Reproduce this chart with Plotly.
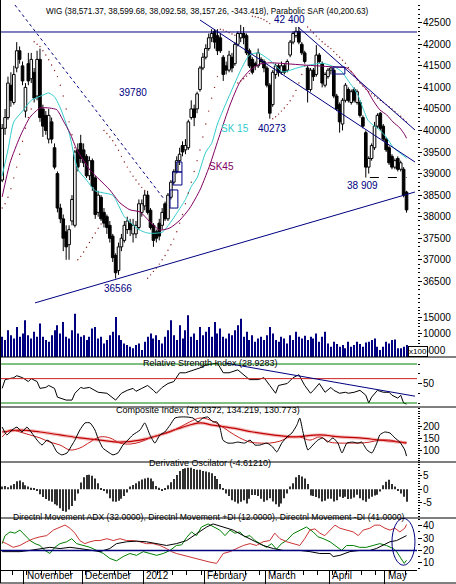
import plotly.graph_objects as go

# trading-day index, 20 Oct 2011 .. 10 May 2012
days = list(range(140))
month_labels = ["November", "December", "2012", "February", "March", "April", "May"]
month_start = [8, 28, 49, 70, 91, 113, 132]

opens = [38850, 40050, 40300, 41050, 40650, 41450, 41850, 41500, 40450, 41550,
         41200, 41350, 40800, 41650, 40500, 40350, 39800, 40200, 39600, 39000,
         38200, 37950, 37650, 37350, 37900, 37800, 39550, 39700, 39550, 39400,
         38950, 39300, 38900, 38100, 38450, 38100, 38000, 37800, 37550, 37100,
         36750, 37300, 37450, 37700, 37850, 37600, 37600, 37750, 38100, 38250,
         38500, 38150, 37800, 37650, 37850, 37800, 38300, 37950, 38450, 38800,
         39050, 39300, 39650, 39550, 39600, 40300, 40500, 40500, 40950, 41450,
         41700, 41900, 42150, 42300, 42200, 42150, 41700, 41500, 41400, 41700,
         41550, 42000, 42150, 42250, 42200, 41850, 41650, 41550, 41500, 41650,
         41600, 41450, 41050, 40600, 41300, 41500, 41350, 41500, 41400, 41750,
         42050, 42200, 42300, 42000, 41800, 41450, 40950, 41400, 41300, 41750,
         41550, 41050, 41250, 41400, 41400, 40800, 40600, 40150, 40700, 40950,
         40650, 40950, 40650, 40650, 40300, 39950, 39150, 39350, 39600, 40100,
         40400, 40100, 39800, 39600, 39400, 39150, 39350, 39100, 39100, 38571.37]
highs = [40150, 40500, 41250, 41350, 41500, 42050, 41950, 41600, 41100, 41800,
         41800, 41450, 41850, 41900, 40600, 40450, 40500, 40300, 39700, 39050,
         38300, 38050, 37800, 37800, 38500, 39550, 39700, 39900, 39700, 39450,
         39400, 39350, 38950, 38600, 38500, 38200, 38050, 37900, 37600, 37150,
         37400, 37600, 37900, 38000, 37950, 37950, 37900, 38400, 38400, 38600,
         38600, 38200, 37850, 37700, 37950, 38200, 38350, 38550, 38850, 39100,
         39400, 39600, 39750, 39800, 40250, 40700, 40600, 40900, 41500, 41800,
         42000, 42250, 42350, 42350, 42350, 42250, 41750, 41600, 41850, 41800,
         42050, 42300, 42450, 42400, 42250, 41900, 41700, 41600, 41900, 41700,
         41650, 41500, 41100, 41400, 41550, 41550, 41600, 41550, 41650, 42100,
         42300, 42400, 42400, 42050, 41850, 41500, 41450, 41450, 41980, 41800,
         41600, 41350, 41450, 41480, 41450, 40850, 40650, 40750, 41100, 41000,
         40950, 41000, 40950, 40700, 40350, 40000, 39400, 39700, 40200, 40400,
         40430, 40150, 39850, 39650, 39450, 39350, 39400, 39300, 39150, 38599.68]
lows = [38800, 39900, 40250, 40550, 40600, 41350, 41550, 41050, 40300, 41050,
        41100, 40650, 40700, 40200, 39850, 39900, 39700, 39700, 39100, 38100,
        37850, 37200, 37000, 37000, 37800, 37750, 39050, 39250, 39150, 38900,
        38850, 38600, 37950, 38000, 37900, 37750, 37600, 37400, 36950, 36566,
        36650, 37200, 37400, 37600, 37550, 37400, 37500, 37700, 38000, 38150,
        38050, 37700, 37300, 37400, 37450, 37700, 37900, 37900, 38400, 38750,
        39000, 39200, 39400, 39450, 39550, 40250, 40100, 40400, 40900, 41400,
        41650, 41850, 42050, 41900, 41750, 41800, 41150, 41300, 41350, 41350,
        41500, 41950, 42050, 42000, 41750, 41450, 41300, 41400, 41450, 41550,
        41350, 41000, 40273, 40550, 41200, 41250, 41300, 41300, 41350, 41700,
        42000, 42150, 42000, 41750, 41550, 40650, 40900, 41150, 41250, 41550,
        41000, 41000, 41200, 41300, 40750, 40450, 39950, 40000, 40650, 40650,
        40600, 40650, 40600, 40300, 40050, 38909, 39000, 39300, 39550, 40050,
        40000, 39750, 39500, 39200, 39100, 39100, 39050, 39050, 38450, 38092.58]
closes = [40050, 40300, 41100, 40700, 41300, 41850, 41650, 41150, 41000, 41150,
          41650, 40750, 41650, 40300, 40100, 40000, 40350, 39800, 39150, 38200,
          37950, 37500, 37300, 37700, 38400, 39500, 39150, 39350, 39250, 38950,
          39300, 38700, 38050, 38500, 37950, 37850, 37750, 37500, 37050, 36700,
          37300, 37500, 37800, 37900, 37700, 37800, 37800, 38300, 38300, 38500,
          38100, 37750, 37450, 37500, 37550, 38100, 37950, 38500, 38800, 39050,
          39300, 39450, 39500, 39650, 40200, 40500, 40300, 40850, 41450, 41700,
          41900, 42150, 42250, 42050, 41850, 41850, 41300, 41400, 41750, 41450,
          42000, 42250, 42250, 42150, 41800, 41500, 41350, 41500, 41800, 41600,
          41450, 41050, 40400, 41350, 41500, 41350, 41500, 41350, 41600, 42050,
          42250, 42300, 42050, 41800, 41600, 40950, 41400, 41250, 41750, 41600,
          41100, 41300, 41400, 41450, 40800, 40500, 40200, 40700, 41050, 40700,
          40900, 40700, 40900, 40350, 40100, 39150, 39350, 39650, 40100, 40350,
          40050, 39800, 39550, 39250, 39150, 39300, 39100, 39250, 38500, 38157.26]

# volume, in hundreds
volume = [9000, 8000, 11000, 9500, 8500, 12000, 9000, 10000,
          14000, 9500, 8500, 10500, 9000, 13000, 9000, 8000, 7500, 9500,
          11000, 12500, 10000, 13500, 9000, 8500, 11000, 16000, 10000, 9000,
          9500, 8000, 9000, 11500, 12000, 8500, 9000, 7000, 8000, 9500,
          10500, 15000, 9500, 8000, 7000, 6500, 6000, 5500, 6500, 7000, 5000,
          7500, 9000, 10000, 8500, 9500, 8000, 7000, 9000, 11000, 14000,
          9500, 8000, 12500, 8500, 11000, 15500, 9000, 10000, 8000, 12000, 9500,
          10500, 12000, 9000, 13500, 10000, 11500, 9000, 8500, 10000, 9500,
          11000, 12500, 14500, 9000, 10500, 8000, 9500, 7500, 8500, 9000, 8000,
          9500, 12000, 10000, 8000, 7500, 9000, 8500, 7000, 9500, 8000, 10500,
          9000, 8500, 9300, 8000, 9000, 8500, 10000, 7500, 9000, 10500, 7000,
          6000, 7500, 6800, 6000, 6500, 5500, 7500, 6000, 6500, 7500,
          6800, 6000, 7300, 7500, 8000, 8500, 6000, 5000, 6000,
          7500, 7000, 8000, 8200, 5500, 5500, 6000, 6500]

sma15_idx = [0, 2, 4, 7, 10, 14, 16, 18, 20, 23, 26, 29, 32, 35, 38, 39, 42, 44, 47, 50,
             55, 58, 60, 63, 65, 67, 70, 72, 74, 77, 80, 82, 85, 88, 92, 96.5, 101.3, 105.8,
             110.2, 114.4, 116.8, 118.8, 120.5, 122.3, 124, 125.7, 127.4, 129.8, 132.2,
             134.3, 136.7, 139]
sma15_val = [38950, 39550, 40200, 40450, 40700, 40820, 40870, 40780, 40520, 39950,
             39100, 38850, 38600, 38550, 38500, 38400, 38000, 37870, 37700, 37620,
             37640, 37880, 38080, 38400, 38700, 38900, 39500, 39700, 40150, 40640,
             41100, 41400, 41750, 41800, 41630, 41360, 41450, 41520, 41560, 41470,
             41360, 41170, 41010, 40820, 40520, 40240, 40130, 40010, 39830, 39620,
             39480, 39360]
sma45_idx = [0, 2.7, 6.1, 9.6, 13, 16.4, 18.8, 20.9, 23.3, 25.7, 27.8, 30.2, 33.6, 37,
             40.5, 43.9, 47.4, 50.8, 54.2, 57.7, 61.1, 64.5, 68, 69.7, 71.4, 74.8, 78.3,
             81.7, 85.2, 88.6, 92, 103.4, 115.1, 118.5, 120.5, 123, 125.4, 127.4, 129.8,
             132.2, 134.3, 136.7, 138.4, 139]
sma45_val = [38460, 39250, 39850, 40310, 40520, 40520, 40480, 40240, 39940, 39550,
             39320, 39080, 38850, 38620, 38320, 38160, 38110, 37880, 37690, 37740,
             37920, 38200, 38620, 38900, 39200, 39900, 40590, 41120, 41400, 41540,
             41570, 41520, 41470, 41450, 41330, 41120, 40940, 40710, 40480, 40360,
             40200, 40060, 39900, 39820]

sar = [38200, 38300, 38450, 38650, 38900, 39150, 39450, 39750, 40050, 40300, 40500,
       42060, 42000, 41950, 41850, 41750, 41640, 41520, 41390, 41250, 41050, 40800,
       40500, 40200, 39900, 39600,
       37000, 37080, 37180, 37290, 37400, 37510, 37620, 37730, 37830,
       40000, 39930, 39850, 39760, 39660, 39540, 39400, 39270, 39150, 39040, 38940,
       38850, 38760, 38680, 38610,
       36570, 36650, 36730, 36810, 36900, 37000, 37100, 37220, 37350, 37480, 37650,
       37850, 38050, 38300, 38550, 38800, 39050, 39300, 39550, 39850, 40150, 40450,
       40750, 41000, 41250,
       42350, 42330, 42300, 42270, 42240, 42210,
       41100, 41150, 41200, 41260, 41320,
       42650, 42640, 42620, 42600, 42570, 42530, 42480,
       40273, 40320, 40380, 40450, 40520, 40600, 40690, 40800, 40930, 41100, 41300, 41500,
       42400, 42330, 42260, 42190, 42120, 42060, 42000, 41950, 41900, 41830, 41760,
       41700, 41630, 41560, 41460, 41370, 41270, 41170, 41100, 41030, 40960, 40900,
       40850, 40800, 40750, 40700, 40650, 40600, 40550, 40500, 40440, 40380, 40330,
       40260, 40200.63]

rsi_idx = [0, 1, 4, 5, 7, 9, 10, 12, 13, 15, 16, 18, 19, 22, 24, 25, 27, 28, 30, 33,
           36, 38, 39, 41, 43, 45, 46, 48, 50, 52, 53, 55, 57, 59, 61, 63, 66, 68, 70, 72,
           74, 76, 78, 81, 83, 85, 88, 90, 92, 94, 95, 98, 100, 102, 104, 106, 107, 109,
           111, 113, 114, 116, 118, 119, 121, 123, 125, 126, 127, 129, 131, 133, 134, 136,
           137, 138, 139]
rsi_val = [45, 54, 56, 58, 56, 52, 55, 52, 45, 46, 48, 45, 36, 33, 33, 40, 46, 45, 46, 41,
           40, 35, 33, 40, 43, 45, 42, 45, 48, 43, 40, 46, 50, 52, 61, 61, 64, 66, 69, 70,
           71, 61, 61, 64, 59, 54, 54, 56, 48, 40, 48, 50, 56, 59, 48, 40, 43, 50, 41, 46,
           43, 40, 41, 40, 41, 43, 38, 30, 36, 43, 41, 41, 38, 35, 38, 30, 28.93]

comp_idx = [0, 1.6, 3.4, 5.1, 6.8, 8.5, 10.2, 12, 13.7, 15.4, 17.1, 18.8, 20.5, 22.3, 24,
            25, 26.7, 28.5, 30.2, 31.9, 32.9, 34.6, 36.4, 38.1, 39.8, 41.5, 43.2, 44.9,
            47.4, 49, 50.8, 52.5, 54.2, 55.9, 57.7, 59.4, 61.1, 63.5, 65.6, 67.3, 69, 70.7,
            72.4, 73.8, 74.9, 75.9, 77.6, 79.3, 81, 83.4, 85.2, 86.9, 88.6, 91, 93, 94.4,
            96.1, 97.9, 99.6, 101.3, 102.3, 103.4, 105.1, 106.8, 108.5, 110.2, 111.9,
            113.7, 115.4, 116.8, 118.5, 120.5, 122.3, 123.6, 125.4, 127.1, 128.8, 129.8,
            131.5, 133.3, 135, 136.7, 138.4, 139]
comp_val = [196, 164, 184, 196, 176, 196, 172, 143, 123, 143, 131, 95, 83, 91, 123, 143,
            184, 213, 213, 184, 152, 111, 95, 83, 91, 123, 143, 164, 184, 213, 164, 131,
            164, 176, 204, 233, 237, 237, 233, 217, 233, 237, 217, 217, 192, 143, 131, 131,
            135, 131, 143, 123, 123, 131, 115, 95, 131, 156, 172, 204, 233, 176, 103, 123,
            143, 152, 135, 152, 131, 91, 131, 135, 131, 135, 103, 91, 131, 164, 176, 172,
            152, 135, 103, 78.04]
comp_fast_idx = [0, 2.7, 6.1, 9.6, 13, 16.4, 19.9, 23.3, 26.7, 30.2, 33.6, 37, 40.5, 43.9,
                 47.4, 50.8, 54.2, 57.7, 61.1, 64.5, 68, 71.4, 74.8, 78.3, 81.7, 85.2, 88.6,
                 92, 95.5, 98.9, 102.3, 105.8, 109.2, 112.6, 116.1, 119.5, 122.9, 126.4,
                 129.8, 133.3, 136.7, 139]
comp_fast_val = [156, 184, 176, 164, 152, 135, 123, 103, 111, 135, 156, 152, 131, 127, 135,
                 152, 164, 176, 196, 217, 233, 225, 204, 176, 152, 135, 131, 131, 139, 156,
                 156, 143, 156, 135, 131, 131, 131, 135, 143, 143, 135, 134.22]
comp_slow_idx = [0, 6.1, 13, 19.9, 26.7, 33.6, 40.5, 47.4, 54.2, 61.1, 68, 72.4, 79.3, 86.2,
                 93, 100, 109.2, 116.1, 122.9, 129.8, 136.7, 139]
comp_slow_val = [176, 184, 176, 164, 152, 143, 135, 143, 164, 192, 213, 204, 192, 176, 164,
                 156, 164, 156, 152, 143, 135, 130.77]

deriv_osc = [1.0, 1.2, 0.8, 1.4, 2.0, 3.0, 3.3, 2.6, 1.5, 1.0,
             0.6, 0.3, -0.4, -1.8, -2.8, -3.6, -4.2, -4.6, -5.5, -6.0,
             -7.0, -8.0, -8.3, -7.5, -6.2, -4.2, -1.5, 2.5, 4.5, 5.3,
             5.4, 5.0, 4.0, 2.2, 0.5, -0.3, -1.5, -3.3, -4.5, -4.6,
             -4.2, -3.5, -2.5, -1.2, 1.0, 1.6, 2.2, 3.0, 3.6, 4.0,
             4.3, 4.0, 3.0, 1.2, 0.6, -0.3, 0.5, 1.5, 2.6, 3.8,
             5.3, 6.8, 7.5, 7.8, 8.0, 8.0, 7.5, 7.2, 7.2, 6.8,
             6.6, 6.3, 5.9, 4.9, 3.8, 2.0, 0.5, -1.5, -2.5, -4.0,
             -4.6, -5.2, -4.6, -4.0, -5.2, -3.5, -2.1, -2.1, -2.5, -3.5,
             -4.6, -4.0, -3.3, -4.5, -5.5, -6.4, -5.2, -3.3, -1.5, 1.0,
             2.2, 4.5, 5.3, 4.7, 4.0, 2.0, -2.3, -2.5, -2.8, -3.3,
             -4.5, -4.2, -3.5, -3.5, -4.5, -4.0, -2.7, -3.2, -2.7, -3.6,
             -3.5, -3.0, -2.0, -3.3, -4.0, -4.6, -3.5, -2.7, -2.3, -2.0,
             -0.8, 1.5, 2.8, 3.5, 2.0, 1.0, -0.5, -1.5, -2.7, -4.6121]

pdi_idx = [0, 1, 2.7, 4.4, 6.1, 7.8, 9.6, 11.3, 13, 14.7, 16.4, 18.1, 19.9, 22.2, 23.9,
           25.6, 27.9, 30.2, 32.5, 34.8, 37, 39.3, 41.6, 43.9, 46.2, 48.5, 50.8, 53.1,
           55.4, 57.7, 59.9, 61.7, 63.4, 65.1, 66.8, 68.5, 70.8, 73.1, 74.8, 76.6, 78.3,
           80, 81.7, 83.4, 85.2, 86.9, 88.6, 90.9, 92.6, 94.3, 96, 97.8, 100, 102.3, 104.6,
           106.9, 108.6, 110.4, 112.7, 114.4, 116.7, 118.4, 120.7, 122.9, 125.2, 127.5,
           129.8, 132.1, 134.4, 135.6, 136.7, 138.2, 139]
pdi_val = [25.5, 32, 35, 34, 36.5, 32, 28, 25.5, 24, 20, 17.5, 22.5, 25.5, 27, 29.5,
           25.5, 24, 22.5, 20, 17.5, 13.5, 11.5, 15, 17.5, 16, 19, 17.5, 16,
           17.5, 20, 24, 24.5, 30.5, 35, 32, 39, 41.5, 39, 36.5, 32, 36.5,
           34, 35, 31, 32, 28, 25.5, 22.5, 25.5, 21, 25.5, 28, 33.5, 36.5, 39,
           35, 31, 29.5, 27, 24, 20, 24, 24, 22.5, 22.5, 24,
           25.5, 24, 21.5, 19, 15, 9.5, 12]
mdi_idx = [0, 1.5, 3.8, 6.1, 8.4, 10.7, 13, 15.3, 17.6, 19.9, 21.6, 23.3, 25, 26.7, 28.4,
           30.2, 31.9, 33.6, 36, 38.2, 40.5, 42.8, 45, 47.3, 49.6, 51.9, 54.2, 56.5, 58.2,
           59.9, 62.2, 64.5, 66.8, 69.1, 71.4, 73.7, 74.8, 76, 78.3, 80.6, 82.9, 85.2, 87.4,
           89.7, 92, 93.7, 95.5, 97.8, 100, 102.3, 104, 105.8, 107.5, 109.2, 110.9, 112.7,
           114.4, 116.1, 118.4, 120.7, 122.4, 124.1, 126.4, 128.1, 129.8, 131.6, 133.3,
           135, 136.7, 138.4, 139]
mdi_val = [27, 25.5, 22.5, 24, 27, 29.5, 31, 32, 36.5, 39, 40.6, 38, 34, 28, 25.5,
           27, 28, 28, 29.5, 28, 29.5, 28, 28, 27, 25.5, 25.5, 24, 21.5, 19,
           17.5, 16, 15, 13.5, 12, 10.5, 9.5, 13.5, 17.5, 19, 21.5, 24, 25.5, 24,
           27, 28, 34, 29.5, 27, 25.5, 24, 29.5, 36.5, 37.5, 34, 32, 36.5,
           40.5, 38, 36.5, 35, 32, 36.5, 38, 40.5, 40.5, 38, 36.5,
           38, 35, 38, 41]
adx_idx = [0, 2.7, 6.1, 9.6, 13, 16.4, 19.9, 23.3, 26.7, 30.2, 33.6, 37, 39.3, 42.8, 46.2,
           49.6, 53.1, 56.5, 59.9, 63.4, 66.8, 70.3, 72.5, 76, 79.4, 82.9, 86.3, 89.7, 93.2,
           96.6, 100, 102.3, 105.8, 109.2, 112.7, 113.8, 116.1, 119.5, 122.9, 126.4, 128.6,
           130.9, 133.3, 135.6, 137.9, 139]
adx_val = [19, 19, 19, 20, 21.5, 22.5, 21.5, 22.5, 21.5, 20, 19, 21.5, 25.5, 27, 27.5,
           27, 25.5, 24, 25.5, 28, 33.5, 39, 41.5, 39, 36.5, 32, 28, 24, 21.5,
           20, 20, 20, 19, 17.5, 17.5, 15, 16, 19, 20, 20, 21.5,
           24, 27, 28, 31, 32]

navy = "#000080"
font = "Liberation Sans, Arial, sans-serif"


def py(p):
    # pixel row -> paper fraction (plot area rows 1..570)
    return (570 - p) / 569


def px(p):
    return (p - 1) / 416


fig = go.Figure()

# candles: wicks above / below the body, then bodies as bars
wick_x, wick_y = [], []
for i, o, h, l, c in zip(days, opens, highs, lows, closes):
    wick_x += [i, i, None, i, i, None]
    wick_y += [h, max(o, c), None, min(o, c), l, None]
fig.add_trace(go.Scatter(x=wick_x, y=wick_y, mode="lines",
                         line=dict(color="black", width=1), hoverinfo="skip"))
fig.add_trace(go.Bar(
    x=days,
    y=[max(abs(c - o), 12) for o, c in zip(opens, closes)],
    base=[min(o, c) for o, c in zip(opens, closes)],
    width=0.9,
    marker=dict(color=["white" if c >= o else "black" for o, c in zip(opens, closes)],
                line=dict(color="black", width=1)),
))

fig.add_trace(go.Scatter(x=sma15_idx, y=sma15_val, mode="lines",
                         line=dict(color="#33CCCC", width=1, shape="spline", smoothing=0.6)))
fig.add_trace(go.Scatter(x=sma45_idx, y=sma45_val, mode="lines",
                         line=dict(color="#800060", width=1, shape="spline", smoothing=0.6)))
fig.add_trace(go.Scatter(x=days, y=sar, mode="markers",
                         marker=dict(color="#8B2020", size=1.4)))

# volume
fig.add_trace(go.Bar(x=days, y=volume, yaxis="y2", width=0.35,
                     marker=dict(color=navy, line=dict(width=0))))

# RSI
fig.add_trace(go.Scatter(x=rsi_idx, y=rsi_val, yaxis="y3", mode="lines",
                         line=dict(color="black", width=1)))

# Composite index
fig.add_trace(go.Scatter(x=comp_slow_idx, y=comp_slow_val, yaxis="y4", mode="lines",
                         line=dict(color="#F6C0C0", width=3.5, shape="spline")))
fig.add_trace(go.Scatter(x=comp_slow_idx, y=comp_slow_val, yaxis="y4", mode="lines",
                         line=dict(color="#C00000", width=1.2, shape="spline")))
fig.add_trace(go.Scatter(x=comp_fast_idx, y=comp_fast_val, yaxis="y4", mode="lines",
                         line=dict(color="#CC2020", width=1, shape="spline")))
fig.add_trace(go.Scatter(x=comp_idx, y=comp_val, yaxis="y4", mode="lines",
                         line=dict(color="black", width=1, shape="spline", smoothing=0.5)))

# Derivative oscillator
fig.add_trace(go.Bar(x=days, y=deriv_osc, yaxis="y5", width=0.35,
                     marker=dict(color="#303030", line=dict(width=0))))

# Directional movement
fig.add_trace(go.Scatter(x=pdi_idx, y=pdi_val, yaxis="y6", mode="lines",
                         line=dict(color="#008000", width=1)))
fig.add_trace(go.Scatter(x=mdi_idx, y=mdi_val, yaxis="y6", mode="lines",
                         line=dict(color="#CC3333", width=1)))
fig.add_trace(go.Scatter(x=adx_idx, y=adx_val, yaxis="y6", mode="lines",
                         line=dict(color="black", width=1)))


def yax(lo, hi, rng, tickvals, minor_vals):
    return dict(domain=[py(lo), py(hi)], range=rng, side="right", anchor="x",
                showgrid=False, zeroline=False, showline=False, fixedrange=True,
                ticks="outside", ticklen=4, tickcolor="black", ticklabelstandoff=-1,
                tickvals=tickvals, ticktext=[str(v) for v in tickvals],
                tickfont=dict(family=font, size=10, color="black"),
                minor=dict(ticks="outside", ticklen=2, tickcolor="black",
                           tickvals=minor_vals))


price_ticks = list(range(36500, 43000, 500))
week_ticks = [3.5 + 5 * k for k in range(28)]

shapes = []


def hline(y, yref, color, width=1, dash="solid"):
    shapes.append(dict(type="line", xref="x", yref=yref, x0=-0.4, x1=142.6, y0=y, y1=y,
                       line=dict(color=color, width=width, dash=dash)))


def seg(x0, y0, x1, y1, yref="y", color=navy, dash="solid"):
    shapes.append(dict(type="line", xref="x", yref=yref, x0=x0, y0=y0, x1=x1, y1=y1,
                       line=dict(color=color, width=1, dash=dash)))


# trend lines on price
hline(42285, "y", navy)
seg(4.4, 42911, 55.9, 38387, dash="dot")
seg(11.3, 36000, 141.9, 38573)
seg(101.7, 42400, 141.9, 40011)
seg(68, 42563, 141.9, 39269)
seg(126.4, 38909, 139, 38909, color="black", dash="dash")
for x0, x1, y0, y1 in [(57.7, 60.4, 38200, 38620), (58.7, 61.8, 38735, 39037),
                       (60, 61.8, 39037, 39270), (113.7, 117.8, 41310, 41473)]:
    shapes.append(dict(type="rect", xref="x", yref="y", x0=x0, x1=x1, y0=y0, y1=y1,
                       line=dict(color=navy, width=1)))

# RSI levels and trend
hline(70, "y3", "#008000")
hline(30, "y3", "#008000")
hline(55, "y3", "#CC2020")
seg(76.6, 71, 141.9, 37, yref="y3")

# DMI reference and marker ellipse
hline(20, "y6", navy, width=1.5)
shapes.append(dict(type="circle", xref="x", yref="y6", x0=134, x1=141.9, y0=8, y1=46,
                   line=dict(color=navy, width=1)))

# pane separators and frame
for p in [357, 407, 462, 518]:
    shapes.append(dict(type="line", xref="paper", yref="paper", x0=px(0), x1=px(456),
                       y0=py(p), y1=py(p), line=dict(color="black", width=1)))
shapes.append(dict(type="line", xref="paper", yref="paper", x0=px(0.5), x1=px(0.5),
                   y0=py(583), y1=py(0), line=dict(color="black", width=1)))
shapes.append(dict(type="line", xref="paper", yref="paper", x0=px(0), x1=px(456),
                   y0=py(583), y1=py(583), line=dict(color="black", width=1)))

annotations = []


def label(x, y, text, color=navy, size=10, xref="x", yref="y", **kw):
    annotations.append(dict(x=x, y=y, xref=xref, yref=yref, text=text, showarrow=False,
                            font=dict(family=font, size=size, color=color), **kw))


label(px(207), py(5), "WIG (38,571.37, 38,599.68, 38,092.58, 38,157.26, -343.418), "
      "Parabolic SAR (40,200.63)", color="black", size=8.2, xref="paper", yref="paper")
label(98.9, 42600, "42 400", yshift=-1)
label(45, 40870, "39780")
label(92.7, 40057, "40273")
label(123.7, 38735, "38 909")
label(39.8, 36345, "36566")
label(80, 40057, "SK 15", color="#33CCCC")
label(75.5, 39153, "SK45", color="#800060")

label(px(210), py(362.5), "Relative Strength Index (28.9283)", color="black", size=9,
      xref="paper", yref="paper")
label(px(208), py(417), "Composite Index (78.0372, 134.219, 130.773)", color="black",
      size=9, xref="paper", yref="paper")
label(px(210), py(470), "Derivative Oscilator (-4.61210)", color="black", size=9,
      xref="paper", yref="paper")
label(px(209), py(523.5), "Directnl Movement ADX (32.0000), Directnl Movement +DI (12.0000), "
      "Directnl Movement -DI (41.0000)", color="black", size=8.6, xref="paper", yref="paper")
label(px(428), py(351.5), "x100", color="black", size=8, xref="paper", yref="paper",
      bordercolor="black", borderwidth=1, borderpad=0, bgcolor="white")

for m, name in zip(month_start, month_labels):
    label(m - 0.2, py(583), name, color="black", size=10, yref="paper",
          xanchor="left", yanchor="bottom")

fig.update_layout(
    width=456, height=584,
    margin=dict(l=1, r=39, t=1, b=14),
    paper_bgcolor="white", plot_bgcolor="white",
    showlegend=False, barmode="overlay", hovermode=False,
    font=dict(family=font, size=10, color="black"),
    xaxis=dict(domain=[0, 1], range=[-0.4, 142.6], anchor="y6", showgrid=False,
               zeroline=False, showline=True, linecolor="black", linewidth=1,
               ticks="outside", ticklen=13, tickcolor="black",
               tickvals=[m - 0.5 for m in month_start], showticklabels=False,
               fixedrange=True,
               minor=dict(ticks="outside", ticklen=4, tickcolor="black", tickvals=week_ticks)),
    yaxis=yax(305, 1, [35951, 43004], price_ticks, list(range(36000, 43000, 100))),
    yaxis2=yax(357, 305, [2879, 18635], [5000, 10000, 15000], list(range(3000, 18001, 1000))),
    yaxis3=yax(407, 357, [25.9, 77.2], [50], [30, 40, 60, 70]),
    yaxis4=yax(462, 407, [54.1, 277.6], [100, 150, 200], list(range(60, 271, 10))),
    yaxis5=yax(518, 462, [-10.6, 10.1], [-5, 0, 5], list(range(-10, 11))),
    yaxis6=yax(570, 518, [4.1, 46.3], [10, 20, 30, 40], list(range(5, 46, 5))),
    shapes=shapes,
    annotations=annotations,
)

# the page body has a default 8px margin; drop it so the figure fills the window
fig.write_html("out.html", config={"displayModeBar": False},
               post_script="document.body.style.margin='0px';")
